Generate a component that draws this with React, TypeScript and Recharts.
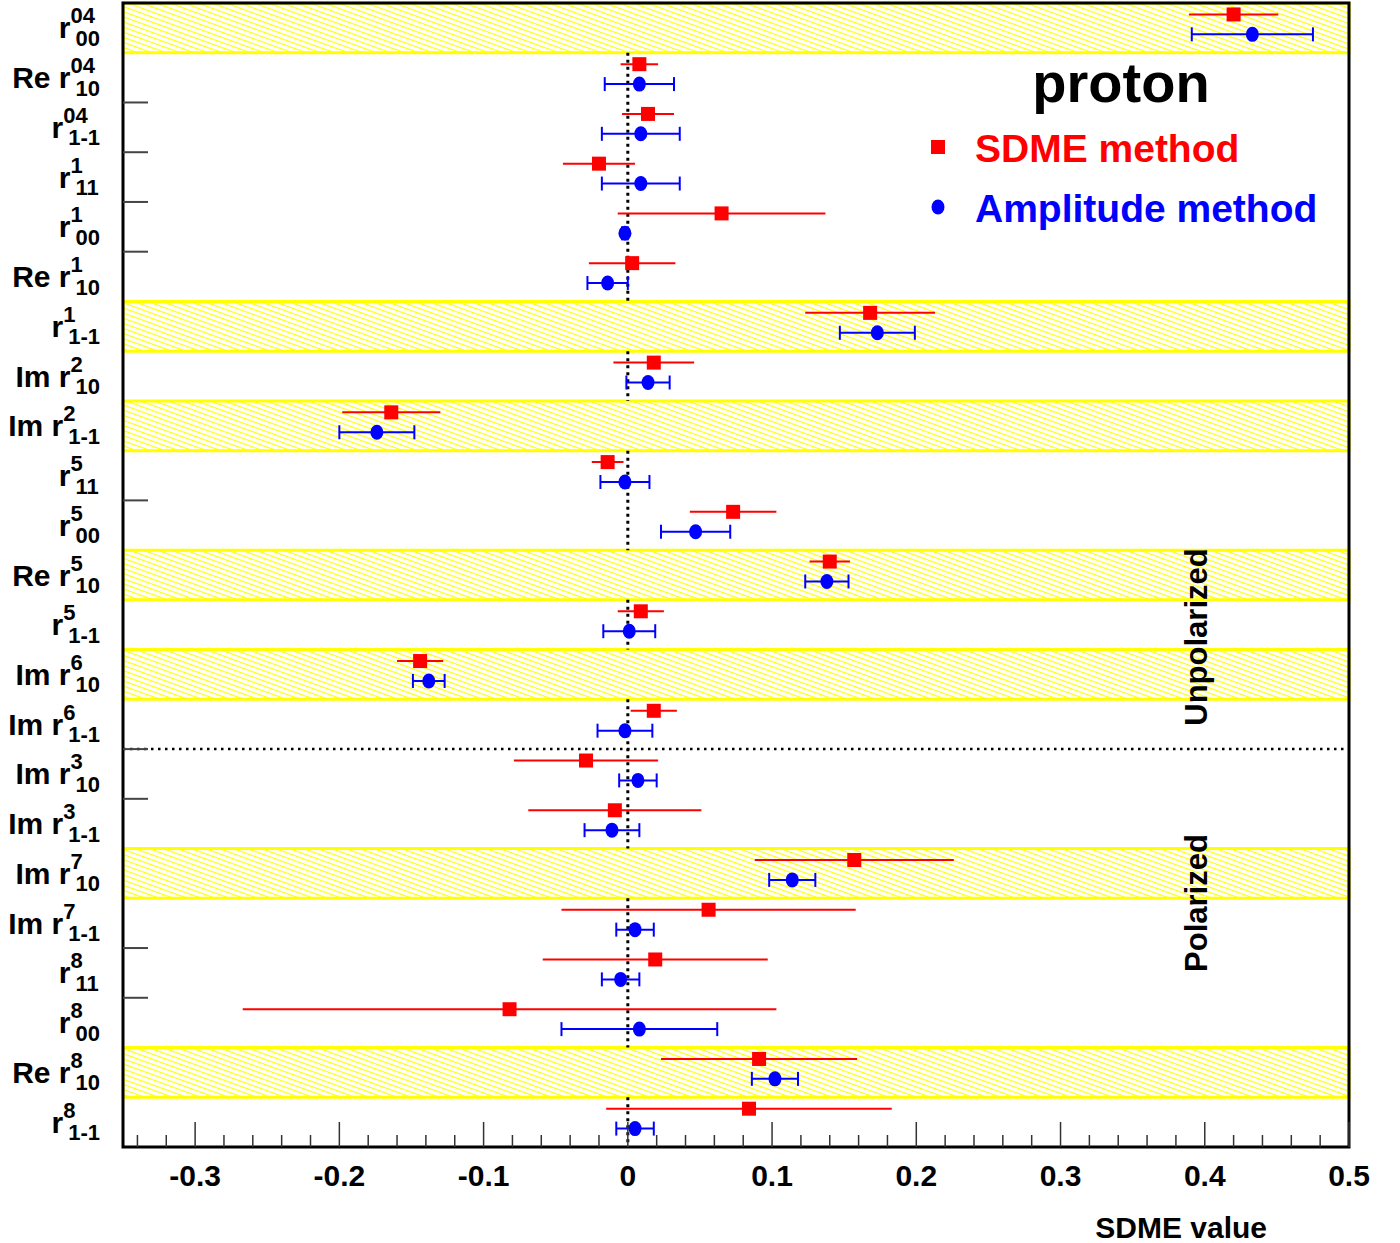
import React from 'react';
import {
  ScatterChart,
  Scatter,
  XAxis,
  YAxis,
  ErrorBar,
  ReferenceArea,
  ReferenceLine,
} from 'recharts';

const FONT = '"Liberation Sans", Arial, Helvetica, sans-serif';

// row labels (top to bottom): prefix, superscript, subscript
const rowPrefix = ['r', 'Re r', 'r', 'r', 'r', 'Re r', 'r', 'Im r', 'Im r', 'r', 'r', 'Re r', 'r', 'Im r', 'Im r', 'Im r', 'Im r', 'Im r', 'Im r', 'r', 'r', 'Re r', 'r'];
const rowSup = ['04', '04', '04', '1', '1', '1', '1', '2', '2', '5', '5', '5', '5', '6', '6', '3', '3', '7', '7', '8', '8', '8', '8'];
const rowSub = ['00', '10', '1-1', '11', '00', '10', '1-1', '10', '1-1', '11', '00', '10', '1-1', '10', '1-1', '10', '1-1', '10', '1-1', '11', '00', '10', '1-1'];

// SDME method (red squares)
const sdmeValues = [0.42, 0.008, 0.014, -0.02, 0.065, 0.003, 0.168, 0.018, -0.164, -0.014, 0.073, 0.14, 0.009, -0.144, 0.018, -0.029, -0.009, 0.157, 0.056, 0.019, -0.082, 0.091, 0.084];
const sdmeErrors = [0.031, 0.013, 0.018, 0.025, 0.072, 0.03, 0.045, 0.028, 0.034, 0.011, 0.03, 0.014, 0.016, 0.016, 0.016, 0.05, 0.06, 0.069, 0.102, 0.078, 0.185, 0.068, 0.099];

// Amplitude method (blue circles)
const ampValues = [0.433, 0.008, 0.009, 0.009, -0.002, -0.014, 0.173, 0.014, -0.174, -0.002, 0.047, 0.138, 0.001, -0.138, -0.002, 0.007, -0.011, 0.114, 0.005, -0.005, 0.008, 0.102, 0.005];
const ampErrors = [0.042, 0.024, 0.027, 0.027, 0.002, 0.014, 0.026, 0.015, 0.026, 0.017, 0.024, 0.015, 0.018, 0.011, 0.019, 0.013, 0.019, 0.016, 0.013, 0.013, 0.054, 0.016, 0.013];

const shadedRows = [0, 6, 8, 11, 13, 17, 21];
const majorTicks = [-0.3, -0.2, -0.1, 0, 0.1, 0.2, 0.3, 0.4, 0.5];
const xTicks = Array.from({ length: 43 }, (_, i) => Math.round((-0.34 + i * 0.02) * 100) / 100);

const N = rowPrefix.length;
const X_MIN = -0.35;
const X_MAX = 0.5;

const sdmeData = sdmeValues.map((v, i) => ({ x: v, y: i + 0.23, err: sdmeErrors[i] }));
const ampData = ampValues.map((v, i) => ({ x: v, y: i + 0.63, err: ampErrors[i] }));

const shadedSet = new Set(shadedRows);
const boundaryTicks = Array.from({ length: N + 1 }, (_, i) => i).filter(
  (b) => b > 0 && b < N && !shadedSet.has(b) && !shadedSet.has(b - 1)
);
const labelTicks = Array.from({ length: N }, (_, i) => i + 0.5);
const yTicks = [...boundaryTicks, ...labelTicks];

// runs of unshaded rows, for the dotted zero line
const zeroRuns: [number, number][] = [];
for (let i = 0; i < N; i++) {
  if (shadedSet.has(i)) continue;
  const last = zeroRuns[zeroRuns.length - 1];
  if (last && last[1] === i) last[1] = i + 1;
  else zeroRuns.push([i, i + 1]);
}

const charW = (s: string) =>
  s.split('').reduce((w, c) => w + (c === '-' ? 0.333 : 0.556), 0);

const YTick = (props: any) => {
  const { x, y, payload } = props;
  const v = payload.value;
  if (Number.isInteger(v)) {
    return <line x1={x} x2={x + 25} y1={y} y2={y} stroke="#444" strokeWidth={2} />;
  }
  const i = Math.floor(v);
  const subSize = 22;
  const subEnd = x - 23;
  const subStart = subEnd - charW(rowSub[i]) * subSize;
  return (
    <g fontFamily={FONT} fontWeight="bold" fill="#000">
      <text x={subStart - 5} y={y + 10.5} fontSize={30} textAnchor="end">
        {rowPrefix[i]}
      </text>
      <text x={subStart - 5} y={y - 4.5} fontSize={subSize}>
        {rowSup[i]}
      </text>
      <text x={subStart} y={y + 18} fontSize={subSize}>
        {rowSub[i]}
      </text>
    </g>
  );
};

const XTick = (props: any) => {
  const { x, y, payload } = props;
  const v = payload.value;
  const major = majorTicks.some((m) => Math.abs(m - v) < 1e-6);
  return (
    <g>
      <line x1={x} x2={x} y1={y} y2={y - (major ? 25 : 12)} stroke="#333" strokeWidth={1.5} />
      {major && (
        <text
          x={x}
          y={y + 39}
          textAnchor="middle"
          fontSize={30}
          fontWeight="bold"
          fontFamily={FONT}
          fill="#000"
        >
          {v === 0 ? '0' : String(v)}
        </text>
      )}
    </g>
  );
};

const RedSquare = (props: any) => (
  <rect x={props.cx - 7} y={props.cy - 7} width={14} height={14} fill="#ff0000" />
);
const BlueDot = (props: any) => (
  <ellipse cx={props.cx} cy={props.cy} rx={6.5} ry={7.5} fill="#0000ff" />
);

export default function App() {
  return (
    <div style={{ position: 'absolute', left: 0, top: 0, width: 1400, height: 1243, background: '#fff' }}>
      <svg width={0} height={0} style={{ position: 'absolute' }}>
        <defs>
          <pattern
            id="hatch"
            patternUnits="userSpaceOnUse"
            width={12}
            height={4.8}
            patternTransform="rotate(20)"
          >
            <rect width={12} height={4.8} fill="#fff" />
            <line x1={0} y1={2.4} x2={12} y2={2.4} stroke="#ffff00" strokeWidth={1.2} />
          </pattern>
        </defs>
      </svg>

      <ScatterChart width={1400} height={1243} margin={{ top: 3, right: 51, bottom: 0, left: 0 }}>
        <XAxis
          type="number"
          dataKey="x"
          domain={[X_MIN, X_MAX]}
          allowDataOverflow
          ticks={xTicks}
          interval={0}
          tickSize={0}
          tickMargin={0}
          axisLine={false}
          tickLine={false}
          tick={XTick}
          height={96}
          label={{
            content: (p: any) => (
              <text
                x={p.viewBox.x + p.viewBox.width - 82}
                y={p.viewBox.y + 91}
                textAnchor="end"
                fontSize={30}
                fontWeight="bold"
                fontFamily={FONT}
                fill="#000"
              >
                SDME value
              </text>
            ),
          }}
        />
        <YAxis
          type="number"
          dataKey="y"
          domain={[0, N]}
          reversed
          allowDataOverflow
          ticks={yTicks}
          interval={0}
          width={123}
          tickSize={0}
          tickMargin={0}
          axisLine={false}
          tickLine={false}
          tick={YTick}
        />

        {zeroRuns.map(([a, b]) => (
          <ReferenceLine
            key={`z${a}`}
            segment={[{ x: 0, y: a }, { x: 0, y: b }]}
            stroke="#000"
            strokeWidth={3}
            strokeDasharray="3 4"
          />
        ))}
        <ReferenceLine y={15} stroke="#000" strokeWidth={2.5} strokeDasharray="2.5 4.5" />

        {shadedRows.map((r) => (
          <ReferenceArea
            key={`s${r}`}
            x1={X_MIN}
            x2={X_MAX}
            y1={r}
            y2={r + 1}
            fill="url(#hatch)"
            fillOpacity={1}
            stroke="#ffff00"
            strokeWidth={3}
          />
        ))}

        <Scatter name="SDME method" data={sdmeData} shape={RedSquare} isAnimationActive={false}>
          <ErrorBar dataKey="err" direction="x" width={0} stroke="#ff0000" strokeWidth={2} />
        </Scatter>
        <Scatter name="Amplitude method" data={ampData} shape={BlueDot} isAnimationActive={false}>
          <ErrorBar dataKey="err" direction="x" width={7} stroke="#0000ff" strokeWidth={2} />
        </Scatter>

        <ReferenceArea
          x1={X_MIN}
          x2={X_MAX}
          y1={0}
          y2={N}
          fill="none"
          stroke="#000"
          strokeWidth={3}
        />
      </ScatterChart>

      <svg
        width={1400}
        height={1243}
        style={{ position: 'absolute', left: 0, top: 0, pointerEvents: 'none' }}
        fontFamily={FONT}
        fontWeight="bold"
      >
        <text x={1121} y={102} textAnchor="middle" fontSize={56} fill="#000">
          proton
        </text>
        <rect x={931} y={140} width={14} height={14} fill="#ff0000" />
        <text x={975} y={162} fontSize={39} fill="#ff0000">
          SDME method
        </text>
        <ellipse cx={938} cy={207} rx={6.5} ry={7.5} fill="#0000ff" />
        <text x={975} y={222} fontSize={39} fill="#0000ff">
          Amplitude method
        </text>
        <text
          x={1207}
          y={637}
          fontSize={31}
          fill="#000"
          textAnchor="middle"
          transform="rotate(-90 1207 637)"
        >
          Unpolarized
        </text>
        <text
          x={1207}
          y={903}
          fontSize={31}
          fill="#000"
          textAnchor="middle"
          transform="rotate(-90 1207 903)"
        >
          Polarized
        </text>
      </svg>
    </div>
  );
}
